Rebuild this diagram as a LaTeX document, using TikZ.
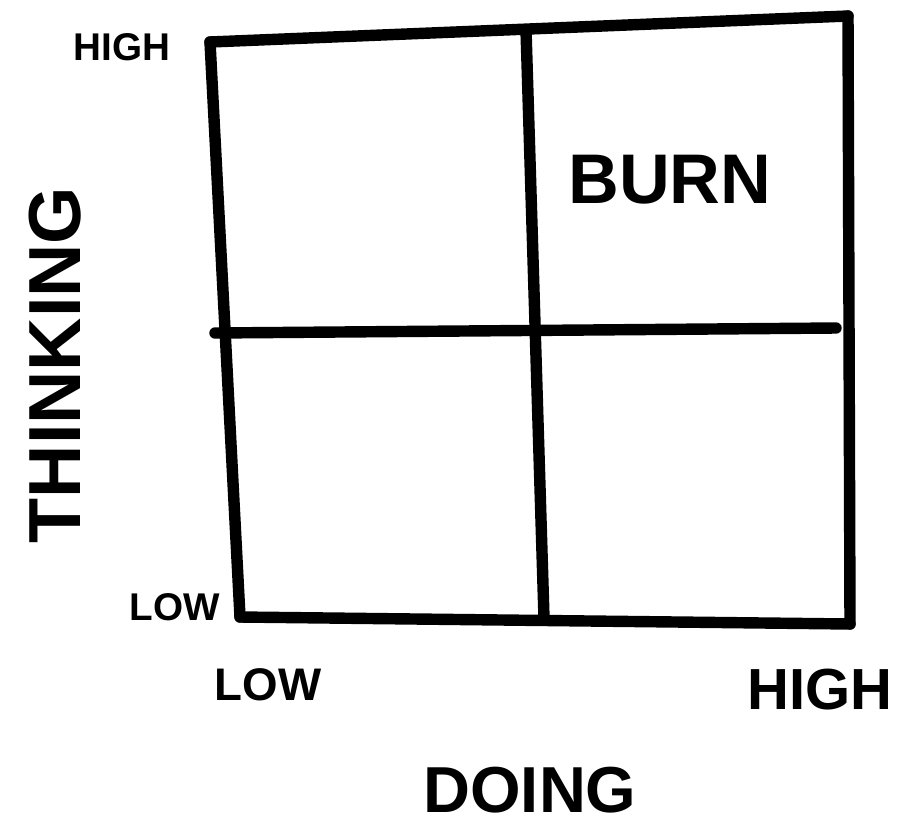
\documentclass[tikz,border=0pt]{standalone}
\usepackage{fontspec}
\setmainfont{Liberation Sans}
\usetikzlibrary{positioning}

\begin{document}
\begin{tikzpicture}[x=0.02cm, y=-0.02cm, line cap=round, line join=round,
    grid/.style={line width=6.5pt, black},
    lbl/.style={font=\bfseries, inner sep=0pt}]
    \useasboundingbox (0,0) rectangle (909,832);

    % Ecken

    \coordinate (tl) at (210, 42);
    \coordinate (tr) at (848, 16);
    \coordinate (bl) at (240, 617);
    \coordinate (br) at (850, 624);
    \coordinate (mt) at (526, 30);
    \coordinate (mb) at (544, 618);
    \coordinate (ml) at (215, 333);
    \coordinate (mr) at (836, 328);

    % Linien

    \draw[grid] (tl) -- (tr);
    \draw[grid] (tr) -- (br);
    \draw[grid] (br) -- (bl);
    \draw[grid] (bl) -- (tl);
    \draw[grid] (mt) -- (mb);
    \draw[grid] (ml) -- (mr);

    % Beschriftungen

    \node[lbl, font=\bfseries\fontsize{22}{22}\selectfont] (highy) at (122, 47) {HIGH};
    \node[lbl, font=\bfseries\fontsize{22}{22}\selectfont] (lowy) at (175, 607) {LOW};
    \node[lbl, font=\bfseries\fontsize{42}{42}\selectfont, rotate=90] (thinking) at (55, 365) {THINKING};
    \node[lbl, font=\bfseries\fontsize{40}{40}\selectfont] (burn) at (670, 180) {BURN};
    \node[lbl, font=\bfseries\fontsize{26}{26}\selectfont] (lowx) at (268, 685) {LOW};
    \node[lbl, font=\bfseries\fontsize{33}{33}\selectfont] (highx) at (820, 690) {HIGH};
    \node[lbl, font=\bfseries\fontsize{37}{37}\selectfont, anchor=base] (doing) at (530, 812) {DOING};

\end{tikzpicture}
\end{document}
